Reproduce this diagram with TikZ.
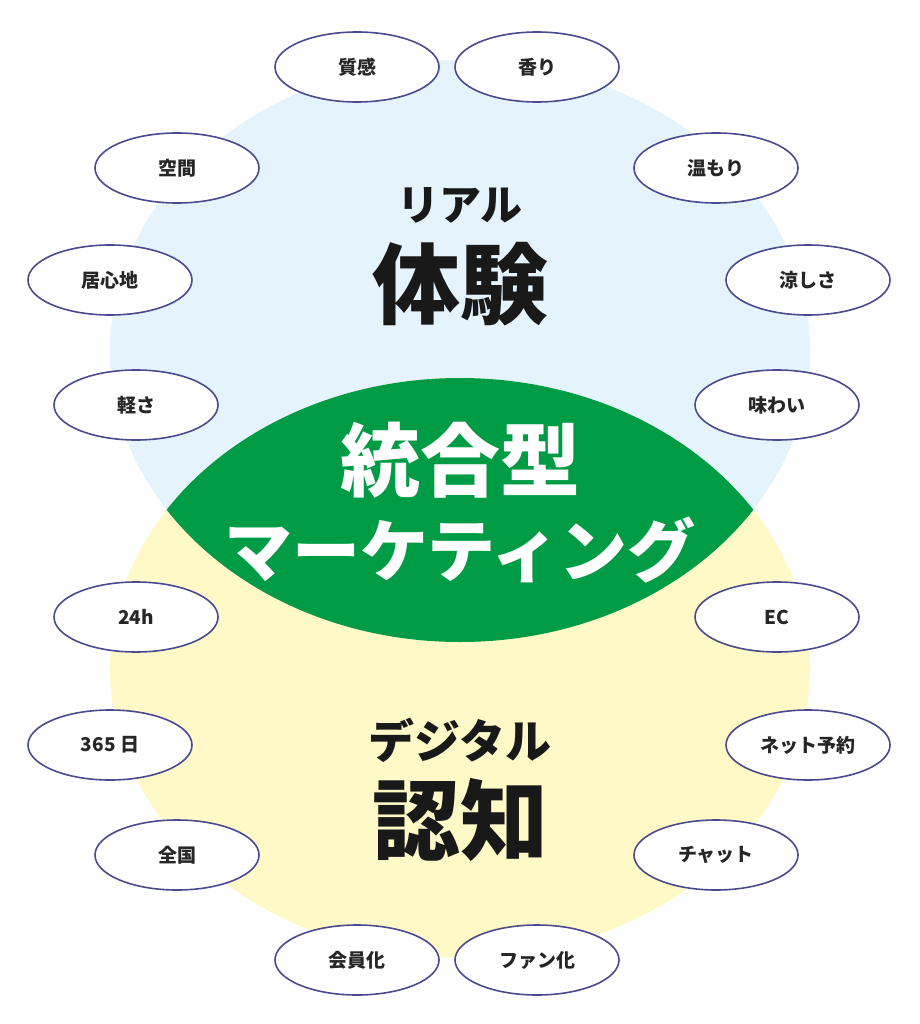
\documentclass[tikz,border=0pt]{standalone}
\usepackage{fontspec}
\usetikzlibrary{shapes.geometric}
\newfontfamily\cjk{Noto Sans CJK JP}
\begin{document}
\begin{tikzpicture}[x=1pt,y=-1pt,
  tag/.style={draw=ovalc,line width=1.6pt,fill=white,ellipse,minimum width=164pt,minimum height=70pt,inner sep=0pt,font=\cjk\bfseries\fontsize{19}{19}\selectfont,text=black!85},
  big/.style={inner sep=0pt,text=black!90}]
\definecolor{ovalc}{HTML}{4B4A8E}
\definecolor{bluec}{HTML}{E4F3FC}
\definecolor{yelc}{HTML}{FFF9C8}
\definecolor{grnc}{HTML}{009B45}
\useasboundingbox (0,0) rectangle (919,1024);
\fill[white] (0,0) rectangle (919,1024);
\fill[bluec] (460,351) ellipse [x radius=350, y radius=291];
\fill[yelc] (460,668) ellipse [x radius=350, y radius=290];
\begin{scope}
\clip (460,351) ellipse [x radius=350, y radius=291];
\fill[grnc] (460,668) ellipse [x radius=350, y radius=290];
\end{scope}
\node[big,font=\cjk\bfseries\fontsize{42}{42}\selectfont] (t1) at (460,205) {リアル};
\node[big,font=\cjk\bfseries\fontsize{88}{88}\selectfont] (t2) at (460,284) {体験};
\node[big,text=white,font=\cjk\bfseries\fontsize{80}{80}\selectfont] (m1) at (460,460) {統合型};
\node[big,text=white,font=\cjk\bfseries\fontsize{68}{68}\selectfont] (m2) at (460,550) {マーケティング};
\node[big,font=\cjk\bfseries\fontsize{46}{46}\selectfont] (d1) at (460,740) {デジタル};
\node[big,font=\cjk\bfseries\fontsize{88}{88}\selectfont] (d2) at (460,820) {認知};
\node[tag] (a1) at (357,67) {質感};
\node[tag] (a2) at (537,67) {香り};
\node[tag] (a3) at (177,168) {空間};
\node[tag] (a4) at (716,168) {温もり};
\node[tag] (a5) at (110,280) {居心地};
\node[tag] (a6) at (808,280) {涼しさ};
\node[tag] (a7) at (136,405) {軽さ};
\node[tag] (a8) at (777,405) {味わい};
\node[tag] (b1) at (136,617) {24h};
\node[tag] (b2) at (777,617) {EC};
\node[tag] (b3) at (110,745) {365 日};
\node[tag] (b4) at (808,745) {ネット予約};
\node[tag] (b5) at (177,855) {全国};
\node[tag] (b6) at (716,855) {チャット};
\node[tag] (b7) at (357,960) {会員化};
\node[tag] (b8) at (537,960) {ファン化};
\end{tikzpicture}
\end{document}
